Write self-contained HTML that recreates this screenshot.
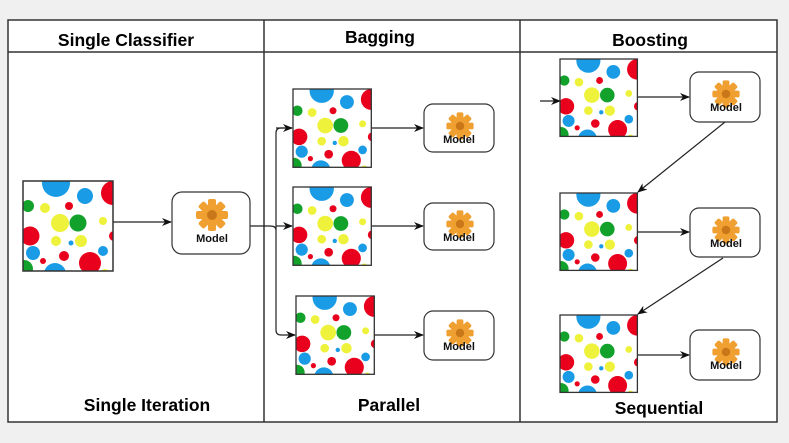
<!DOCTYPE html>
<html><head><meta charset="utf-8"><style>
body{margin:0;background:#f0f0f0;}
svg{display:block;}
text{font-family:"Liberation Sans",sans-serif;font-weight:bold;}
</style></head><body>
<svg width="789" height="443" viewBox="0 0 789 443" xmlns="http://www.w3.org/2000/svg">
<defs>
<marker id="a" markerWidth="10" markerHeight="8" refX="9" refY="4" orient="auto" markerUnits="userSpaceOnUse"><path d="M0,0 L10,4 L0,8 L3,4z" fill="#111"/></marker>
<clipPath id="c"><rect x="0" y="0" width="90" height="90"/></clipPath>
<g id="dots">
<rect width="90" height="90" fill="#fff"/>
<g clip-path="url(#c)">
<circle cx="33" cy="2" r="14" fill="#1a9be6"/>
<circle cx="62" cy="15" r="8" fill="#1a9be6"/>
<circle cx="90" cy="12" r="12" fill="#e8001c"/>
<circle cx="5" cy="25" r="6" fill="#12a12a"/>
<circle cx="22" cy="27" r="5" fill="#eef23a"/>
<circle cx="46" cy="25" r="4" fill="#e8001c"/>
<circle cx="37" cy="42" r="9" fill="#eef23a"/>
<circle cx="55" cy="42" r="8.5" fill="#12a12a"/>
<circle cx="80" cy="40" r="4" fill="#eef23a"/>
<circle cx="7" cy="55" r="9.5" fill="#e8001c"/>
<circle cx="33" cy="60" r="5" fill="#eef23a"/>
<circle cx="48" cy="62" r="2.5" fill="#1a9be6"/>
<circle cx="58" cy="60" r="6" fill="#eef23a"/>
<circle cx="91" cy="55" r="5" fill="#e8001c"/>
<circle cx="10" cy="72" r="7" fill="#1a9be6"/>
<circle cx="20" cy="80" r="3" fill="#e8001c"/>
<circle cx="41" cy="75" r="5" fill="#e8001c"/>
<circle cx="67" cy="82" r="11" fill="#e8001c"/>
<circle cx="80" cy="70" r="5" fill="#1a9be6"/>
<circle cx="32" cy="93" r="11" fill="#1a9be6"/>
<circle cx="1" cy="88" r="9" fill="#12a12a"/>
<circle cx="82" cy="92" r="4" fill="#eef23a"/>
</g>
<rect width="90" height="90" fill="none" stroke="#333" stroke-width="1.5"/>
</g>
<g id="gear">
<g fill="#f0a030">
<circle cx="0" cy="0" r="11"/>
<rect x="-4" y="-16" width="8" height="32" rx="2"/>
<rect x="-4" y="-16" width="8" height="32" rx="2" transform="rotate(45)"/>
<rect x="-4" y="-16" width="8" height="32" rx="2" transform="rotate(90)"/>
<rect x="-4" y="-16" width="8" height="32" rx="2" transform="rotate(135)"/>
</g>
<circle cx="0" cy="0" r="5" fill="#c87818"/>
</g>
</defs>
<rect x="8" y="20" width="769" height="402" fill="#fff" stroke="#333" stroke-width="1.5"/>
<line x1="8" y1="52" x2="777" y2="52" stroke="#333" stroke-width="1.5"/>
<line x1="264" y1="20" x2="264" y2="422" stroke="#333" stroke-width="1.5"/>
<line x1="520" y1="20" x2="520" y2="422" stroke="#333" stroke-width="1.5"/>
<text x="126" y="46" font-size="17.5" text-anchor="middle">Single Classifier</text>
<text x="380" y="43" font-size="17.5" text-anchor="middle">Bagging</text>
<text x="650" y="46" font-size="17.5" text-anchor="middle">Boosting</text>
<text x="147" y="411" font-size="17.5" text-anchor="middle">Single Iteration</text>
<text x="389" y="411" font-size="17.5" text-anchor="middle">Parallel</text>
<text x="659" y="414" font-size="17.5" text-anchor="middle">Sequential</text>

<g fill="none" stroke="#222" stroke-width="1.2">
<line x1="113" y1="222" x2="171" y2="222" marker-end="url(#a)"/>
<path d="M250,226 L270,226" />
<path d="M292,128 L281,128 Q276,128 276,133 L276,330 Q276,335 281,335 L295,335" marker-end="url(#a)"/>
<line x1="276" y1="128" x2="292" y2="128" marker-end="url(#a)"/>
<path d="M270,226 Q276,226 276,230"/>
<line x1="276" y1="226" x2="292" y2="226" marker-end="url(#a)"/>
<line x1="371" y1="128" x2="423" y2="128" marker-end="url(#a)"/>
<line x1="371" y1="226" x2="423" y2="226" marker-end="url(#a)"/>
<line x1="374" y1="335" x2="423" y2="335" marker-end="url(#a)"/>
<line x1="540" y1="101" x2="560" y2="101" marker-end="url(#a)"/>
<line x1="637" y1="97" x2="689" y2="97" marker-end="url(#a)"/>
<line x1="725" y1="122" x2="638" y2="192" marker-end="url(#a)"/>
<line x1="637" y1="232" x2="689" y2="232" marker-end="url(#a)"/>
<line x1="723" y1="258" x2="638" y2="314" marker-end="url(#a)"/>
<line x1="637" y1="355" x2="689" y2="355" marker-end="url(#a)"/>
</g>

<use href="#dots" transform="translate(23,181)"/>
<use href="#dots" transform="translate(293,89) scale(0.87)"/>
<use href="#dots" transform="translate(293,187) scale(0.87)"/>
<use href="#dots" transform="translate(296,296) scale(0.87)"/>
<use href="#dots" transform="translate(560,59) scale(0.86)"/>
<use href="#dots" transform="translate(560,193) scale(0.86)"/>
<use href="#dots" transform="translate(560,315) scale(0.86)"/>

<g stroke="#333" stroke-width="1.2" fill="#fff">
<rect x="172" y="192" width="78" height="62" rx="10"/>
<rect x="424" y="104" width="70" height="48" rx="9"/>
<rect x="424" y="203" width="70" height="47" rx="9"/>
<rect x="424" y="311" width="70" height="49" rx="9"/>
<rect x="690" y="72" width="70" height="50" rx="9"/>
<rect x="690" y="208" width="70" height="49" rx="9"/>
<rect x="690" y="330" width="70" height="50" rx="9"/>
</g>
<use href="#gear" transform="translate(212,215)"/>
<use href="#gear" transform="translate(460,126) scale(0.85)"/>
<use href="#gear" transform="translate(460,224) scale(0.85)"/>
<use href="#gear" transform="translate(460,333) scale(0.85)"/>
<use href="#gear" transform="translate(726,94) scale(0.85)"/>
<use href="#gear" transform="translate(726,230) scale(0.85)"/>
<use href="#gear" transform="translate(726,352) scale(0.85)"/>
<g font-size="11" text-anchor="middle" fill="#111">
<text x="212" y="242">Model</text>
<text x="459" y="143">Model</text>
<text x="459" y="241">Model</text>
<text x="459" y="350">Model</text>
<text x="726" y="111">Model</text>
<text x="726" y="247">Model</text>
<text x="726" y="369">Model</text>
</g>
</svg>
</body></html>
